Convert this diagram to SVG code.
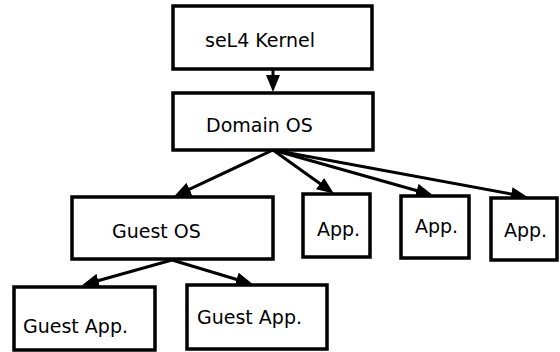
<svg xmlns="http://www.w3.org/2000/svg" width="560" height="352" viewBox="0 0 560 352">
<style>
.box{fill:#fff;stroke:#000;stroke-width:3.5}
.lbl{font-family:"DejaVu Sans",sans-serif;font-size:19px;fill:#000}
.edge{stroke:#000;stroke-width:3;fill:none;marker-end:url(#ah)}
</style>
<defs>
<marker id="ah" markerUnits="userSpaceOnUse" markerWidth="17" markerHeight="14" refX="8" refY="7" orient="auto">
<path d="M0,0 L17,7 L0,14 z" fill="#000"/>
</marker>
</defs>
<rect width="560" height="352" fill="#fff"/>
<g id="connectors">
<line class="edge" x1="273" y1="69" x2="273" y2="83"/>
<line class="edge" x1="273" y1="150" x2="182.2" y2="192.6"/>
<line class="edge" x1="273" y1="150" x2="326.5" y2="188.3"/>
<line class="edge" x1="273" y1="150" x2="424.3" y2="192.8"/>
<line class="edge" x1="273" y1="150" x2="519.1" y2="195.5"/>
<line class="edge" x1="172" y1="260" x2="90.7" y2="282.8"/>
<line class="edge" x1="172" y1="260" x2="244.3" y2="281.7"/>
</g>
<g id="kernel"><rect class="box" x="173" y="6" width="199" height="63"/><text class="lbl" x="205" y="47">seL4 Kernel</text></g>
<g id="domain"><rect class="box" x="173" y="93" width="200" height="57"/><text class="lbl" x="206" y="132">Domain OS</text></g>
<g id="guestos"><rect class="box" x="72" y="197" width="201" height="62"/><text class="lbl" x="112" y="238">Guest OS</text></g>
<g id="app1"><rect class="box" x="303" y="194" width="67" height="63"/><text class="lbl" x="317" y="236">App.</text></g>
<g id="app2"><rect class="box" x="401" y="196" width="68" height="62"/><text class="lbl" x="415" y="233">App.</text></g>
<g id="app3"><rect class="box" x="491" y="198" width="66" height="62"/><text class="lbl" x="504" y="237">App.</text></g>
<g id="guestapp1"><rect class="box" x="14" y="287" width="141" height="63"/><text class="lbl" x="23" y="333">Guest App.</text></g>
<g id="guestapp2"><rect class="box" x="187" y="285" width="140" height="64"/><text class="lbl" x="197" y="324">Guest App.</text></g>
</svg>
